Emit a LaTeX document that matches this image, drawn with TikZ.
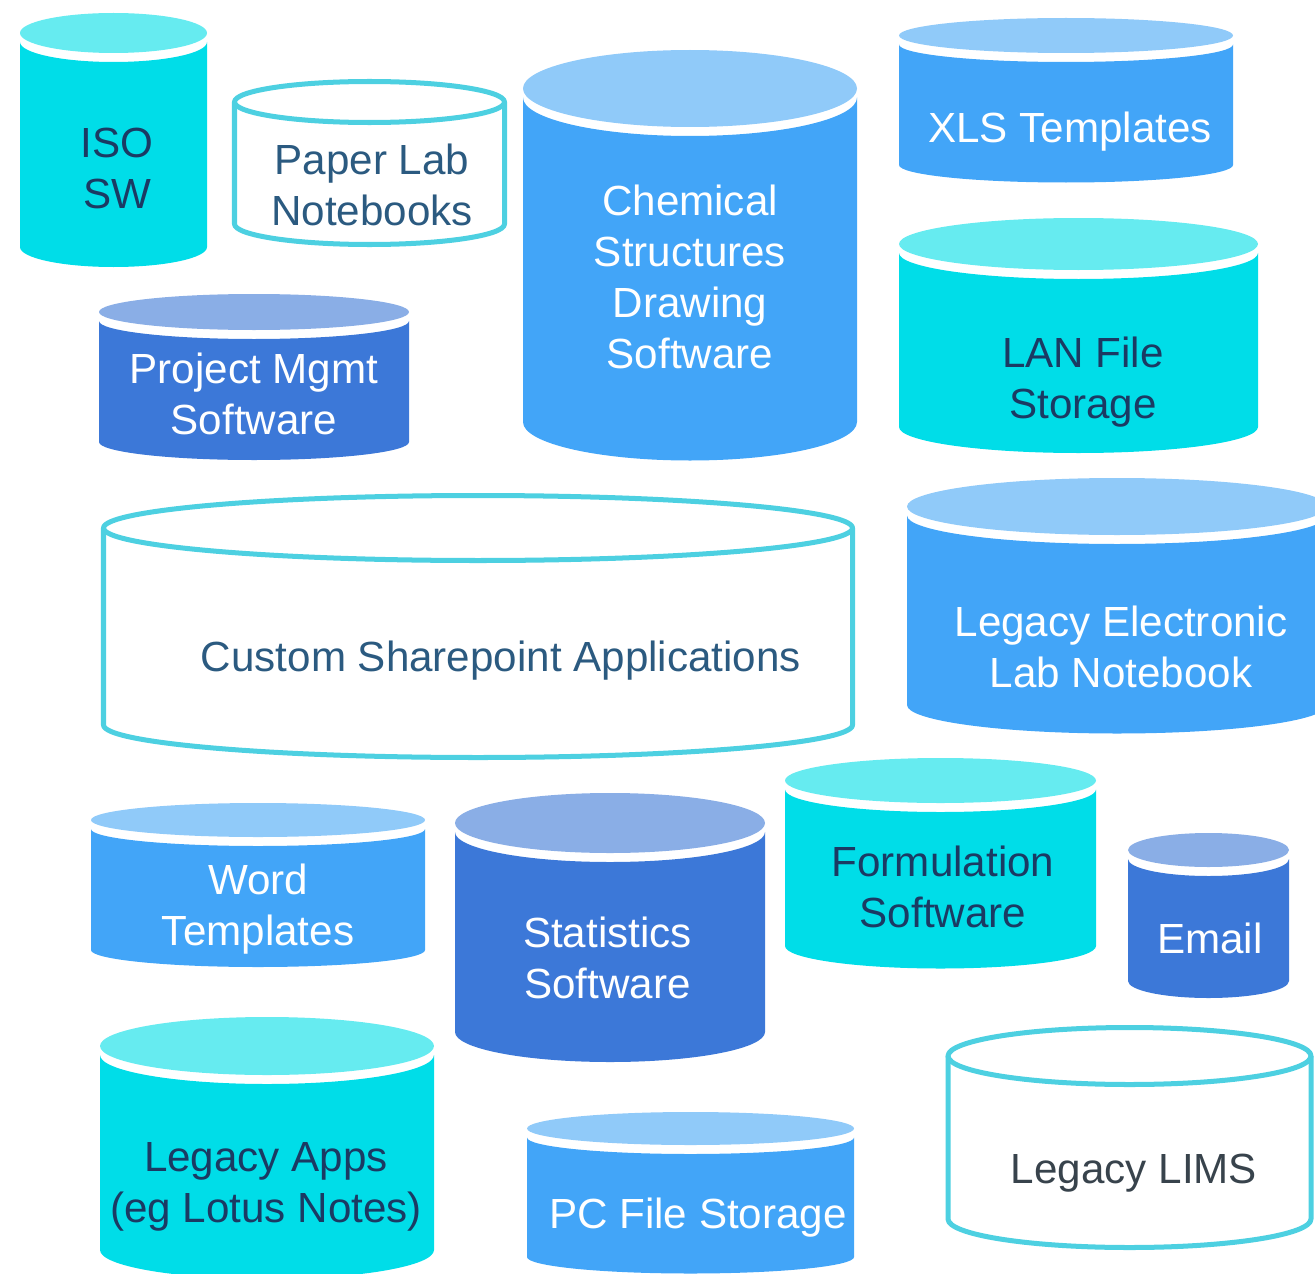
\documentclass[tikz,border=0pt]{standalone}
\usepackage{fontspec}
\setmainfont{Liberation Sans}
\usetikzlibrary{positioning}

\definecolor{cyanbody}{HTML}{00DDE8}
\definecolor{cyantop}{HTML}{66EBF0}
\definecolor{bluebody}{HTML}{42A5F8}
\definecolor{bluetop}{HTML}{90CAF9}
\definecolor{deepbody}{HTML}{3C78D8}
\definecolor{deeptop}{HTML}{8AAEE6}
\definecolor{rimline}{HTML}{4DD0E1}
\definecolor{navytext}{HTML}{1B3A63}
\definecolor{slatetext}{HTML}{2B5A80}
\definecolor{greytext}{HTML}{38434C}

% filled drum: cx, lid y, bottom y, x radius, y radius, body colour, lid colour
\newcommand{\drum}[7]{%
  \fill[#6] (#1-#4,-#2-9) -- (#1-#4,-#3)
    arc[start angle=180, end angle=360, x radius=#4, y radius=#5]
    -- (#1+#4,-#2-9)
    arc[start angle=0, end angle=-180, x radius=#4, y radius=#5] -- cycle;
  \fill[#7] (#1,-#2) ellipse[x radius=#4, y radius=#5];
}
% open drum: cx, lid y, bottom y, x radius, y radius
\newcommand{\opendrum}[5]{%
  \draw[rim] (#1-#4,-#2) -- (#1-#4,-#3)
    arc[start angle=180, end angle=360, x radius=#4, y radius=#5]
    -- (#1+#4,-#2);
  \draw[rim] (#1,-#2) ellipse[x radius=#4, y radius=#5];
}

\begin{document}
\begin{tikzpicture}
    [
      x=0.02cm, y=0.02cm,
      rim/.style = {draw=rimline, line width=2.85pt, line join=round},
      drumtext/.style = {font=\fontsize{24}{29}\selectfont, align=center, anchor=base, inner sep=0pt},
      darktext/.style = {drumtext, text=navytext},
      whitetext/.style = {drumtext, text=white},
    ]

    \useasboundingbox (0,0) rectangle (1315,-1274);
    \clip (0,0) rectangle (1315,-1274);

    % drums
    \drum{113.5}{33}{247}{93.5}{20}{cyanbody}{cyantop}
    \opendrum{369.5}{102}{224}{135}{20.5}
    \drum{254}{312}{442}{155}{18}{deepbody}{deeptop}
    \drum{690}{88.5}{422}{167}{38.5}{bluebody}{bluetop}
    \drum{1066}{35.5}{165}{167}{17.5}{bluebody}{bluetop}
    \drum{1078.5}{244}{427}{179.5}{26}{cyanbody}{cyantop}
    \opendrum{478}{528}{725}{374.5}{32.5}
    \drum{1117}{506.5}{705}{210}{28.5}{bluebody}{bluetop}
    \drum{258}{820}{950}{167}{17}{bluebody}{bluetop}
    \drum{610}{823}{1032}{155}{30}{deepbody}{deeptop}
    \drum{940.5}{780.5}{946}{155.5}{22.5}{cyanbody}{cyantop}
    \drum{1208.5}{850}{981}{80.5}{17}{deepbody}{deeptop}
    \opendrum{1129.5}{1056}{1219}{181.5}{28.5}
    \drum{267}{1046}{1250}{167}{29}{cyanbody}{cyantop}
    \drum{690.5}{1128.5}{1257}{163.5}{16.5}{bluebody}{bluetop}

    % labels (base = last line)
    \node[darktext] (iso) at (117,-208) {ISO\\SW};
    \node[drumtext, text=slatetext] (paper) at (372,-225) {Paper Lab\\Notebooks};
    \node[whitetext] (project) at (254,-434) {Project Mgmt\\Software};
    \node[whitetext] (chem) at (690,-368) {Chemical\\Structures\\Drawing\\Software};
    \node[whitetext] (xls) at (1070,-142) {XLS Templates};
    \node[darktext] (lan) at (1083,-418) {LAN File\\Storage};
    \node[drumtext, text=slatetext] (sharepoint) at (501,-671) {Custom Sharepoint Applications};
    \node[whitetext] (eln) at (1121,-687) {Legacy Electronic\\Lab Notebook};
    \node[whitetext] (word) at (258,-945) {Word\\Templates};
    \node[whitetext] (stats) at (607.5,-998) {Statistics\\Software};
    \node[darktext] (formul) at (943,-927) {Formulation\\Software};
    \node[whitetext] (email) at (1210,-953) {Email};
    \node[drumtext, text=greytext] (lims) at (1134,-1183) {Legacy LIMS};
    \node[darktext] (apps) at (266,-1222) {Legacy Apps\\(eg Lotus Notes)};
    \node[whitetext] (pcfile) at (698,-1228) {PC File Storage};

  \end{tikzpicture}
\end{document}
